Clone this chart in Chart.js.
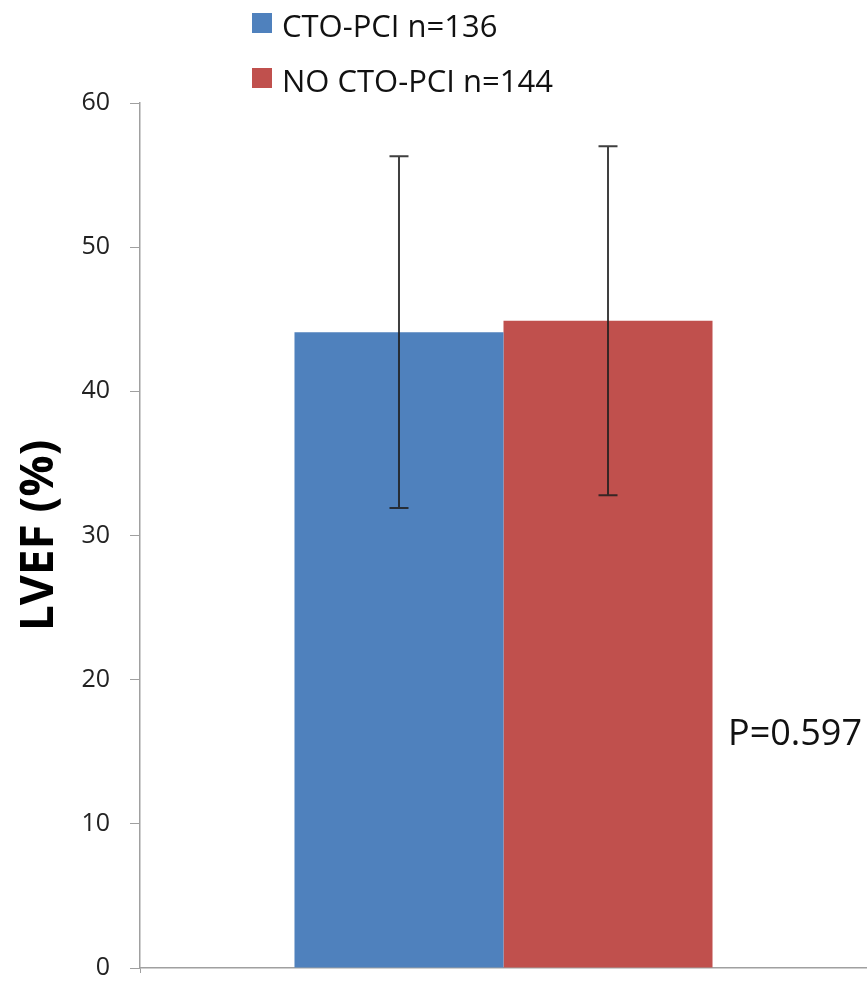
<!DOCTYPE html>
<html>
<head>
<meta charset="utf-8">
<title>LVEF</title>
<script src="https://cdn.jsdelivr.net/npm/chart.js@4/dist/chart.umd.min.js"></script>
<style>
  body { margin: 0; background: #fff; }
  canvas { display: block; }
</style>
</head>
<body>
<canvas id="lvefChart" width="867" height="982"></canvas>
<script>
// Data
const categories = [''];
const groupLabels = ['CTO-PCI n=136', 'NO CTO-PCI n=144'];
const lvefMean = [44.1, 44.9];
const lvefSD = [12.2, 12.1];
const groupColors = ['#4F81BD', '#C0504D'];
const yMin = 0;
const yMax = 60;
const yStep = 10;
const pText = 'P=0.597';

const errorBars = { // whiskers drawn through the y scale
  id: 'errorBars',
  afterDatasetsDraw(chart) {
    const ctx = chart.ctx;
    const y = chart.scales.y;
    ctx.save();
    ctx.strokeStyle = 'rgba(30,30,30,0.85)';
    ctx.lineWidth = 2;
    chart.data.datasets.forEach((ds, i) => {
      const meta = chart.getDatasetMeta(i);
      meta.data.forEach((bar, j) => {
        const top = y.getPixelForValue(ds.data[j] + ds.sd[j]);
        const bottom = y.getPixelForValue(ds.data[j] - ds.sd[j]);
        ctx.beginPath();
        ctx.moveTo(bar.x, top);
        ctx.lineTo(bar.x, bottom);
        ctx.moveTo(bar.x - 9.5, top);
        ctx.lineTo(bar.x + 9.5, top);
        ctx.moveTo(bar.x - 9.5, bottom);
        ctx.lineTo(bar.x + 9.5, bottom);
        ctx.stroke();
      });
    });
    ctx.restore();
  }
};

const stackedLegend = { // legend as two rows, plus the p value note
  id: 'stackedLegend',
  afterDraw(chart) {
    const ctx = chart.ctx;
    ctx.save();
    ctx.font = '31px "Open Sans"';
    ctx.textBaseline = 'alphabetic';
    ctx.textAlign = 'left';
    chart.data.datasets.forEach((ds, i) => {
      const rowTop = 13 + i * 55;
      ctx.fillStyle = ds.backgroundColor;
      ctx.fillRect(252, rowTop, 20, 20);
      ctx.fillStyle = '#111';
      ctx.fillText(ds.label, 282, rowTop + 24);
    });
    ctx.font = '36px "Open Sans"';
    ctx.fillStyle = '#111';
    ctx.fillText(pText, 728, 745);
    ctx.restore();
  }
};

const lvefChart = new Chart(document.getElementById('lvefChart'), {
  type: 'bar',
  data: {
    labels: categories,
    datasets: groupLabels.map((label, i) => ({
      label: label,
      data: [lvefMean[i]],
      sd: [lvefSD[i]],
      backgroundColor: groupColors[i],
      borderWidth: 0,
      barPercentage: 1,
      categoryPercentage: 0.575
    }))
  },
  options: {
    responsive: false,
    animation: false,
    layout: { padding: { top: 103, right: 0, left: 0, bottom: 0 } },
    plugins: {
      legend: { display: false },
      tooltip: { enabled: false }
    },
    scales: {
      x: {
        ticks: { display: false },
        grid: { drawOnChartArea: false, tickLength: 5, color: '#a0a0a0' },
        border: { color: '#a0a0a0', width: 1.5 },
        afterFit: (scale) => { scale.height = 14; scale.paddingLeft = 0; scale.paddingRight = 0; }
      },
      y: {
        min: yMin,
        max: yMax,
        ticks: {
          stepSize: yStep,
          padding: 20,
          color: '#222',
          font: { family: 'Open Sans', size: 25 }
        },
        grid: { drawOnChartArea: false, tickLength: 10, color: '#a0a0a0' },
        border: { color: '#a0a0a0', width: 1.5 },
        title: {
          display: true,
          text: 'LVEF (%)',
          color: '#000',
          font: { family: 'Open Sans', size: 46, weight: 'bold' },
          padding: { top: 12, bottom: 0 }
        },
        afterFit: (scale) => { scale.width = 140; scale.paddingTop = 0; scale.paddingBottom = 0; }
      }
    }
  },
  plugins: [errorBars, stackedLegend]
});
</script>
</body>
</html>
